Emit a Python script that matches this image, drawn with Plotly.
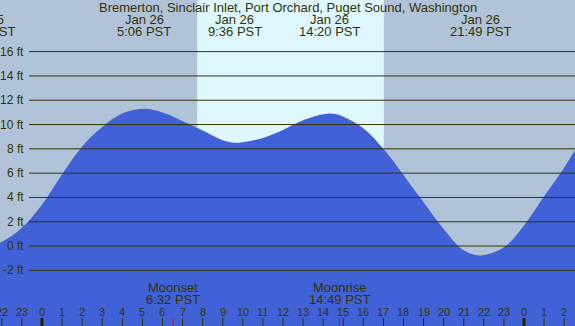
import plotly.graph_objects as go

# ---------------- data ----------------
title = "Bremerton, Sinclair Inlet, Port Orchard, Puget Sound, Washington"

tide_hours = [-2.84, -2, -1, 0, 1, 2, 3, 4, 5.1, 6, 7, 8, 9, 9.6, 10, 11, 12, 13,
              14.33, 15, 16, 17, 18, 19, 20, 21, 21.82, 23, 24, 25, 26, 27]
tide_ft = [-0.05, 0.35, 1.5, 3.4, 5.9, 8.2, 9.8, 10.9, 11.3, 11.0, 10.3, 9.5, 8.7, 8.5,
           8.55, 8.9, 9.55, 10.35, 10.9, 10.65, 9.7, 8.0, 5.85, 3.6, 1.4, -0.35, -0.77,
           -0.1, 1.7, 4.1, 6.45, 9.2]

event_hours = [-2.84, 5.1, 9.6, 14.333, 21.817]
event_dates = ["Jan 25", "Jan 26", "Jan 26", "Jan 26", "Jan 26"]
event_times = ["21:10 PST", "5:06 PST", "9:36 PST", "14:20 PST", "21:49 PST"]

sunrise_h = 7.73
sunset_h = 17.02

moon_hours = [6.533, 14.817]
moon_names = ["Moonset", "Moonrise"]
moon_times = ["6:32 PST", "14:49 PST"]

grid_ft = [-2, 0, 2, 4, 6, 8, 10, 12, 14, 16]
hour_ticks = list(range(-2, 27))

# ---------------- style ----------------
W, H = 575, 326
X_RANGE = [-2.09, 26.54]
Y_RANGE = [-6.58, 20.25]
NIGHT = "#B0C3D9"
DAY = "#DFF7FF"
WATER = "#4161D7"
INK = "#333300"
FONT = "Liberation Sans, Arial, sans-serif"


def xp(h):
    return (h - X_RANGE[0]) / (X_RANGE[1] - X_RANGE[0])


def yp(px):  # pixel from top -> paper
    return (H - px) / H


def txt(x, y, s, size, xanchor="center"):
    return dict(xref="paper", yref="paper", x=x, y=y, text=s, showarrow=False,
                xanchor=xanchor, yanchor="middle",
                font=dict(family=FONT, size=size, color=INK))


fig = go.Figure()
fig.add_trace(go.Scatter(x=[tide_hours[0], tide_hours[-1]], y=[-10, -10], mode="lines",
                         line=dict(width=0), hoverinfo="skip", showlegend=False))
fig.add_trace(go.Scatter(x=tide_hours, y=tide_ft, mode="lines", fill="tonexty",
                         fillcolor=WATER, line=dict(color=WATER, width=0, shape="spline"),
                         hoverinfo="skip", showlegend=False))

shapes = []
shapes.append(dict(type="rect", xref="paper", yref="paper", x0=0, x1=1, y0=0, y1=1,
                   fillcolor=NIGHT, line_width=0, layer="below"))
shapes.append(dict(type="rect", xref="x", yref="paper", x0=sunrise_h, x1=sunset_h, y0=0, y1=1,
                   fillcolor=DAY, line_width=0, layer="below"))
for g in grid_ft:
    shapes.append(dict(type="line", xref="paper", yref="y", x0=29 / W, x1=1, y0=g, y1=g,
                       line=dict(color=INK, width=1), layer="above"))

annotations = []
for g in grid_ft:
    annotations.append(dict(xref="paper", yref="y", x=26 / W, y=g, text=f"{g} ft",
                            showarrow=False, xanchor="right", yanchor="middle",
                            font=dict(family=FONT, size=12, color=INK)))

for h in hour_ticks:
    annotations.append(txt(xp(h), yp(312), str(h % 24), 11))
    midnight = (h % 24 == 0)
    shapes.append(dict(type="line", xref="x", yref="paper", x0=h, x1=h, y0=0, y1=yp(318),
                       line=dict(color="#222200" if midnight else INK,
                                 width=3 if midnight else 1), layer="above"))

for h, nm, t in zip(moon_hours, moon_names, moon_times):
    shapes.append(dict(type="line", xref="x", yref="paper", x0=h, x1=h, y0=0, y1=yp(318),
                       line=dict(color="#FF0000", width=1), layer="above"))
    annotations.append(txt(xp(h), yp(287), nm, 13))
    annotations.append(txt(xp(h), yp(299.5), t, 13))

for h, d, t in zip(event_hours, event_dates, event_times):
    annotations.append(txt(xp(h), yp(20), d, 13))
    annotations.append(txt(xp(h), yp(32), t, 13))

annotations.append(txt(0.5, yp(7.5), title, 13))

fig.update_layout(
    width=W, height=H, margin=dict(l=0, r=0, t=0, b=0),
    paper_bgcolor=NIGHT, plot_bgcolor="rgba(0,0,0,0)",
    xaxis=dict(range=X_RANGE, visible=False, fixedrange=True),
    yaxis=dict(range=Y_RANGE, visible=False, fixedrange=True),
    shapes=shapes, annotations=annotations, showlegend=False,
)

fig.write_html("out.html", config=dict(displayModeBar=False),
               post_script="document.body.style.margin='0';document.body.style.overflow='hidden';")
